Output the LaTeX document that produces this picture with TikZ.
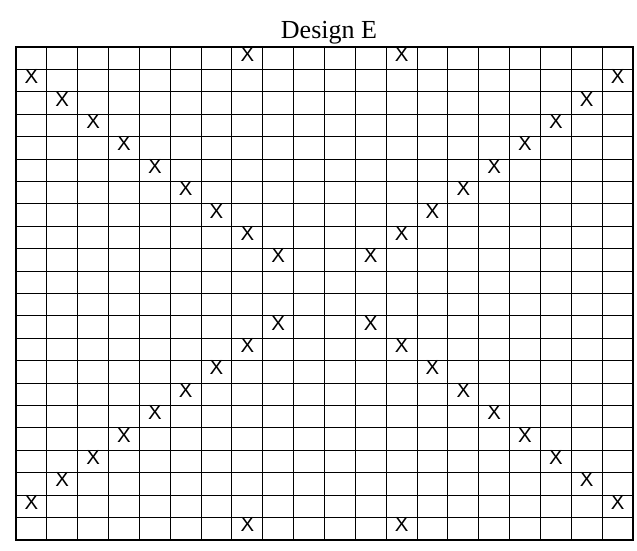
\documentclass[tikz,border=0pt]{standalone}
\usepackage{fontspec}
\setmainfont{Liberation Serif}
\newfontfamily\crossfont{Liberation Sans}
\usepackage{tikz}

% one cell of the chart: 30.85 x 22.4 pixel units
\newcommand{\cellx}[1]{16+30.85*(#1-0.5)}
\newcommand{\celly}[1]{47+22.4*(#1+0.5)-4}
\newcommand{\markcell}[2]{\node[cross] (m-#1-#2) at ({\cellx{#2}},{\celly{#1}}) {X};}

\begin{document}
\begin{tikzpicture}[x=0.025cm,y=-0.025cm,
  gridline/.style={line width=0.7pt},
  frame/.style={line width=1.7pt},
  cross/.style={font=\crossfont\fontsize{14.5}{14.5}\selectfont,inner sep=0pt}]
  \useasboundingbox (0,0) rectangle (637,551);

  \node[anchor=base,inner sep=0pt] (title) at (329,39) {\fontsize{18.5}{22}\selectfont Design E};

  \foreach \i in {1,...,19}
    \draw[gridline] ({16+30.85*\i},47)--({16+30.85*\i},540);
  \foreach \j in {1,...,21}
    \draw[gridline] (16,{47+22.41*\j})--(633,{47+22.41*\j});
  \draw[frame] (16,47) rectangle (633,540);

  % top and bottom rows
  \markcell{0}{8}  \markcell{0}{13}
  \markcell{21}{8} \markcell{21}{13}
  % the four diagonals
  \foreach \r in {1,...,9} {
    \markcell{\r}{\r}
    \pgfmathtruncatemacro{\c}{21-\r}
    \markcell{\r}{\c}
  }
  \foreach \r in {12,...,20} {
    \markcell{\r}{\r}
    \pgfmathtruncatemacro{\c}{21-\r}
    \markcell{\r}{\c}
  }
\end{tikzpicture}
\end{document}
